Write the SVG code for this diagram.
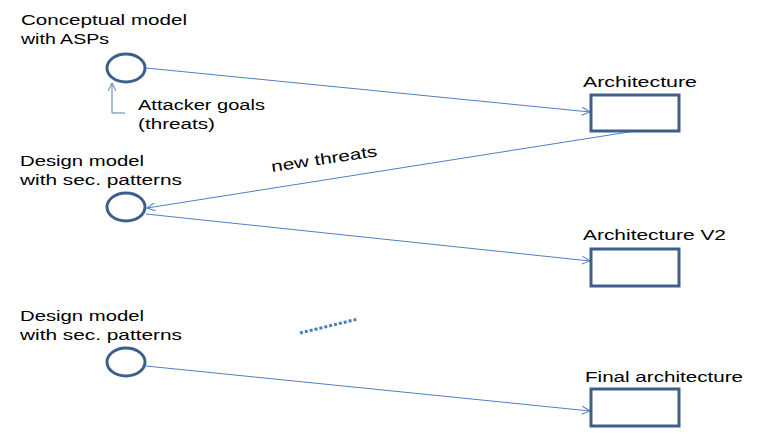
<svg xmlns="http://www.w3.org/2000/svg" width="758" height="440" viewBox="0 0 758 440">
<style>
.lbl{font-family:"Liberation Sans",Arial,sans-serif;font-size:15.5px;fill:#000}
.node{fill:#fff;stroke:#3d5f8c;stroke-width:3}
.conn{fill:none;stroke:#4f81bd;stroke-width:1}
</style>
<defs>
<marker id="arr" markerUnits="userSpaceOnUse" markerWidth="12" markerHeight="12" refX="9" refY="5" orient="auto">
<path d="M1,1 L9,5 L1,9" fill="none" stroke="#4f81bd" stroke-width="1"/>
</marker>
</defs>
<rect width="758" height="440" fill="#fff"/>
<g id="connectors">
<line class="conn" x1="146" y1="68" x2="590" y2="112" marker-end="url(#arr)"/>
<line class="conn" x1="635" y1="131" x2="147" y2="208" marker-end="url(#arr)"/>
<line class="conn" x1="146" y1="214" x2="590" y2="261" marker-end="url(#arr)"/>
<line class="conn" x1="146" y1="366" x2="590" y2="411" marker-end="url(#arr)"/>
<polyline class="conn" points="125,113 112,113 112,83" marker-end="url(#arr)"/>
<line x1="300" y1="333" x2="358" y2="319" stroke="#4a7ebb" stroke-width="3" stroke-dasharray="3 2"/>
<text class="lbl" x="272" y="172" transform="rotate(-8.5 272 172)" textLength="107" lengthAdjust="spacingAndGlyphs">new threats</text>
<text class="lbl" x="138" y="110" textLength="127" lengthAdjust="spacingAndGlyphs">Attacker goals</text>
<text class="lbl" x="138" y="129" textLength="77" lengthAdjust="spacingAndGlyphs">(threats)</text>
</g>
<g id="conceptual">
<ellipse class="node" cx="126" cy="68" rx="19" ry="14"/>
<text class="lbl" x="21" y="25" textLength="166" lengthAdjust="spacingAndGlyphs">Conceptual model</text>
<text class="lbl" x="21" y="44" textLength="88" lengthAdjust="spacingAndGlyphs">with ASPs</text>
</g>
<g id="design1">
<ellipse class="node" cx="126" cy="207" rx="19" ry="14"/>
<text class="lbl" x="20" y="166" textLength="124" lengthAdjust="spacingAndGlyphs">Design model</text>
<text class="lbl" x="20" y="185" textLength="162" lengthAdjust="spacingAndGlyphs">with sec. patterns</text>
</g>
<g id="design2">
<ellipse class="node" cx="126" cy="362" rx="19" ry="14"/>
<text class="lbl" x="20" y="321" textLength="124" lengthAdjust="spacingAndGlyphs">Design model</text>
<text class="lbl" x="20" y="340" textLength="162" lengthAdjust="spacingAndGlyphs">with sec. patterns</text>
</g>
<g id="arch1">
<rect class="node" x="591" y="95" width="88" height="36"/>
<text class="lbl" x="583" y="87" textLength="114" lengthAdjust="spacingAndGlyphs">Architecture</text>
</g>
<g id="arch2">
<rect class="node" x="591" y="249" width="88" height="37"/>
<text class="lbl" x="583" y="240" textLength="143" lengthAdjust="spacingAndGlyphs">Architecture V2</text>
</g>
<g id="arch3">
<rect class="node" x="591" y="389" width="88" height="37"/>
<text class="lbl" x="585" y="382" textLength="158" lengthAdjust="spacingAndGlyphs">Final architecture</text>
</g>
</svg>
